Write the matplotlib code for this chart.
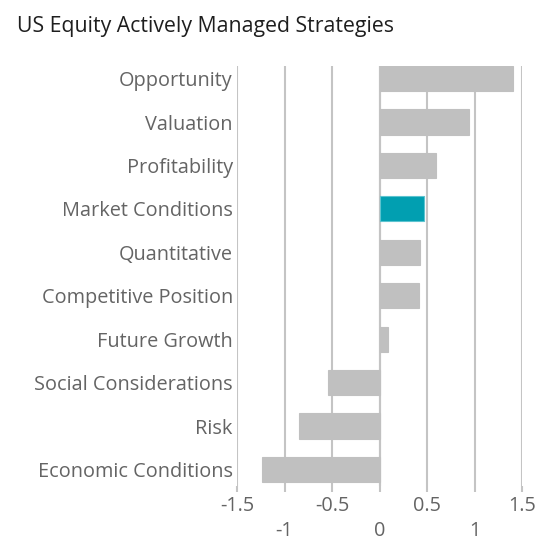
import numpy as np
import matplotlib
matplotlib.use("Agg")
import matplotlib.pyplot as plt

categories = ['Opportunity', 'Valuation', 'Profitability', 'Market Conditions',
              'Quantitative', 'Competitive Position', 'Future Growth',
              'Social Considerations', 'Risk', 'Economic Conditions']
values = [1.405, 0.938, 0.597, 0.467, 0.429, 0.411, 0.091, -0.545, -0.843, -1.240]
highlight = 'Market Conditions'
xticks = [-1.5, -1, -0.5, 0, 0.5, 1, 1.5]
xticklabels = ['-1.5', '-1', '-0.5', '0', '0.5', '1', '1.5']

plt.rcParams['font.family'] = ['Open Sans', 'DejaVu Sans']

fig = plt.figure(figsize=(5.48, 5.41), dpi=100)
ax = fig.add_axes([0.4325, 0.1017, 0.5201, 0.7763])

ypos = np.arange(len(categories))[::-1]
colors = ['#019fb1' if c == highlight else '#c0c0c0' for c in categories]
edges = ['#5cc3cf' if c == highlight else '#c0c0c0' for c in categories]
ax.barh(ypos, values, height=0.58, color=colors, edgecolor=edges, linewidth=0.8, zorder=3)

ax.set_xlim(-1.5, 1.5)
ax.set_ylim(-0.38, 9.29)
ax.set_xticks(xticks)
ax.set_xticklabels(xticklabels)
ax.set_yticks(ypos)
ax.set_yticklabels(categories)

ax.grid(axis='x', color='#c4c4c4', linewidth=1.5, zorder=0)
ax.axvline(0, color='#c4c4c4', linewidth=1.5, zorder=1)
for s in ax.spines.values():
    s.set_visible(False)

ax.tick_params(axis='y', length=0, pad=3, labelsize=14.3, labelcolor='#646464')
ax.tick_params(axis='x', length=4, width=1.5, color='#c4c4c4', pad=3,
               labelsize=14.3, labelcolor='#646464')
for i, t in enumerate(ax.xaxis.get_major_ticks()):
    if i % 2 == 1:
        t.set_pad(21.5)

fig.text(0.031, 0.951, 'US Equity Actively Managed Strategies', fontsize=15.3,
         color='#1e1e1e', ha='left', va='center')

fig.savefig('out.png', dpi=100)
